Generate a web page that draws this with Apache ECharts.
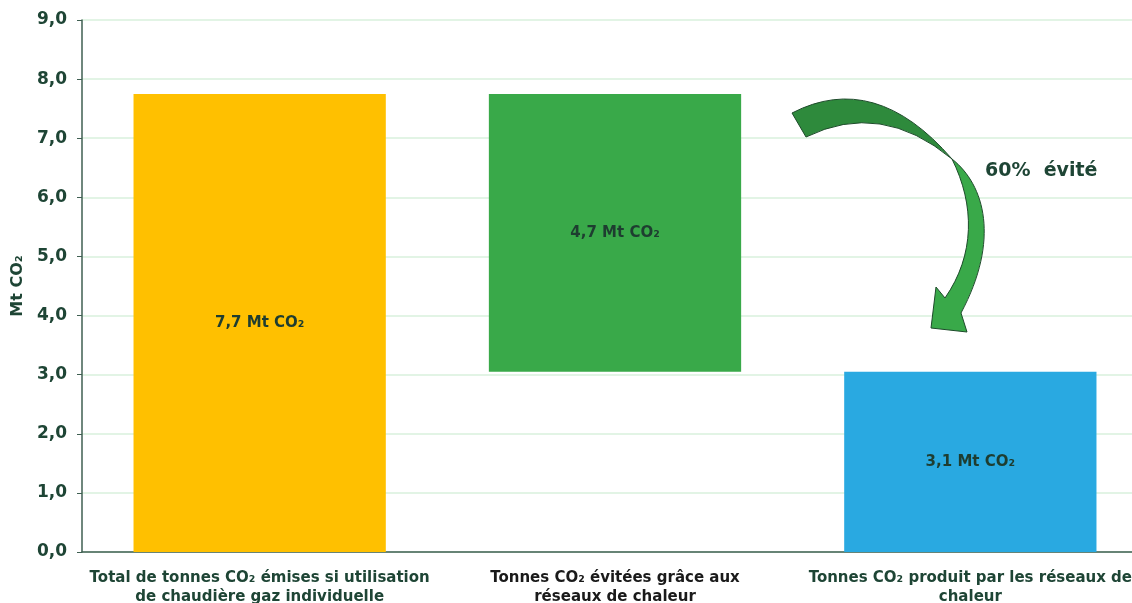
<!DOCTYPE html>
<html>
<head>
<meta charset="utf-8">
<script src="https://cdn.jsdelivr.net/npm/echarts@6/dist/echarts.min.js"></script>
<style>
  html, body { margin: 0; padding: 0; background: #fff; overflow: hidden; }
  /* le graphique original est coupe a droite */
  #main { width: 1148px; height: 603px; }
</style>
</head>
<body>
<div id="main"></div>
<script>
// donnees
var categories = [
  'Total de tonnes CO\u2082 émises si utilisation\nde chaudière gaz individuelle',
  'Tonnes CO\u2082 évitées grâce aux\nréseaux de chaleur',
  'Tonnes CO\u2082 produit par les réseaux de\nchaleur'
];
var baseValues = [0, 3.05, 0];        // partie invisible (barre flottante)
var barValues = [7.75, 4.7, 3.05];     // Mt CO2
var barLabels = ['7,7 Mt CO\u2082', '4,7 Mt CO\u2082', '3,1 Mt CO\u2082'];
var barColors = ['#ffc000', '#39a949', '#29a9e1'];
var yTicks = { min: 0, max: 9, interval: 1 };

var dark = '#1e4535';
var fontFam = '"DejaVu Sans", sans-serif';

// fleche courbe (decor)
var arrowTop = 'M 792 113 Q 875 70 952 159 Q 881 100 806 137 Z';
var arrowBottom = 'M 952 159 C 985 185 1000 240 961 313 L 967 332 L 931 328 L 936 287 L 945 298 C 975 255 975 205 952 159 Z';

var chart = echarts.init(document.getElementById('main'));

chart.setOption({
  animation: false,
  grid: { left: 82, top: 20, bottom: 51, right: 0, outerBoundsMode: 'none' },
  xAxis: {
    type: 'category',
    data: categories,
    axisLine: { lineStyle: { color: '#3f5f52', width: 1.5 } },
    axisTick: { show: false },
    axisLabel: {
      interval: 0,
      margin: 17,
      fontFamily: fontFam,
      fontWeight: 'bold',
      fontSize: 15,
      lineHeight: 19,
      color: function (v, i) { return i === 1 ? '#1a1a1a' : dark; }
    }
  },
  yAxis: {
    type: 'value',
    min: yTicks.min,
    max: yTicks.max,
    interval: yTicks.interval,
    name: 'Mt CO\u2082',
    nameLocation: 'middle',
    nameRotate: 90,
    nameGap: 53,
    nameTextStyle: { fontFamily: fontFam, fontWeight: 'bold', fontSize: 16, color: dark },
    axisLine: { show: true, lineStyle: { color: '#3f5f52', width: 1.5 } },
    axisTick: { show: true, length: 5, lineStyle: { color: '#3f5f52' } },
    splitLine: { lineStyle: { color: '#d8f0dc', width: 1.5 } },
    axisLabel: {
      margin: 15,
      fontFamily: fontFam,
      fontWeight: 'bold',
      fontSize: 17,
      color: dark,
      formatter: function (v) { return v.toFixed(1).replace('.', ','); }
    }
  },
  series: [
    {
      type: 'bar',
      stack: 'tot',
      data: baseValues,
      itemStyle: { color: 'transparent' },
      barWidth: '71%'
    },
    {
      type: 'bar',
      stack: 'tot',
      barWidth: '71%',
      data: barValues.map(function (v, i) {
        return { value: v, itemStyle: { color: barColors[i] } };
      }),
      label: {
        show: true,
        position: 'inside',
        fontFamily: fontFam,
        fontWeight: 'bold',
        fontSize: 15,
        color: '#1e3d30',
        formatter: function (p) { return barLabels[p.dataIndex]; }
      }
    },
    {
      type: 'custom',
      data: [0],
      silent: true,
      z: 10,
      renderItem: function () {
        return {
          type: 'group',
          children: [
            { type: 'path', shape: { pathData: arrowTop }, style: { fill: '#2e8a3c', stroke: '#1d4a2a', lineWidth: 1 } },
            { type: 'path', shape: { pathData: arrowBottom }, style: { fill: '#39a949', stroke: '#1d4a2a', lineWidth: 1 } }
          ]
        };
      }
    }
  ],
  graphic: [
    {
      type: 'text',
      left: 985,
      top: 162,
      style: { text: '60%  évité', fontFamily: fontFam, fontWeight: 'bold', fontSize: 19, fill: dark }
    }
  ]
});
</script>
</body>
</html>
